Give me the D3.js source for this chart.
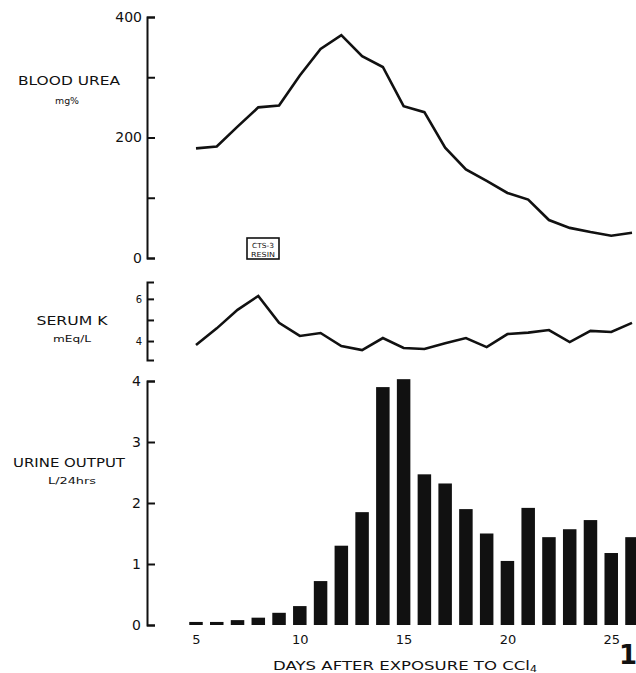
<!DOCTYPE html>
<html>
<head>
<meta charset="utf-8">
<script src="https://cdn.jsdelivr.net/npm/d3@7"></script>
<style>
  body { margin: 0; background: #fff; }
  svg text { font-family: "DejaVu Sans", sans-serif; fill: #111; }
</style>
</head>
<body>
<script>
// days after exposure
const days = [5, 6, 7, 8, 9, 10, 11, 12, 13, 14, 15, 16, 17, 18, 19, 20, 21, 22, 23, 24, 25, 26];
// blood urea mg%
const bloodUrea = [182, 185, 218, 250, 253, 303, 347, 370, 335, 317, 252, 242, 183, 147, 128, 108, 97, 63, 50, 43, 37, 42];
// serum K mEq/L
const serumK = [3.81, 4.6, 5.48, 6.14, 4.86, 4.24, 4.38, 3.76, 3.57, 4.14, 3.67, 3.62, 3.9, 4.14, 3.71, 4.33, 4.4, 4.52, 3.95, 4.48, 4.43, 4.86];
// urine output L/24hrs
const urine = [0.05, 0.05, 0.08, 0.12, 0.2, 0.31, 0.72, 1.3, 1.85, 3.9, 4.03, 2.47, 2.32, 1.9, 1.5, 1.05, 1.92, 1.44, 1.57, 1.72, 1.18, 1.44];

const dayTicks = [5, 10, 15, 20, 25];
const ureaTicks = [0, 100, 200, 300, 400];
const ureaLabels = [0, 200, 400];
const kTicks = [4, 5, 6];
const kLabels = [4, 6];
const urineTicks = [0, 1, 2, 3, 4];

const W = 636, H = 673;
const axisX = 147;

const svg = d3.select('body').append('svg')
  .attr('width', W)
  .attr('height', H);

const x = d3.scaleLinear().domain([5, 26]).range([196, 632]);

const yUrea = d3.scaleLinear().domain([0, 400]).range([258, 17]);
const yK = d3.scaleLinear().domain([3.1, 6.8]).range([360, 282]);
const yUrine = d3.scaleLinear().domain([0, 4]).range([625, 381]);

function styleAxis(g, fs) {
  g.select('.domain').attr('stroke', '#111').attr('stroke-width', 2);
  g.selectAll('.tick line').attr('stroke', '#111').attr('stroke-width', 2);
  g.selectAll('.tick text').attr('font-size', fs).attr('fill', '#111')
    .style('font-family', '"DejaVu Sans", sans-serif');
}

// blood urea axis
svg.append('g')
  .attr('transform', `translate(${axisX},0)`)
  .call(d3.axisLeft(yUrea).tickValues(ureaTicks)
    .tickSize(-8).tickPadding(5)
    .tickFormat(d => ureaLabels.includes(d) ? d : ''))
  .call(g => styleAxis(g, 14));

// serum K axis
svg.append('g')
  .attr('transform', `translate(${axisX},0)`)
  .call(d3.axisLeft(yK).tickValues(kTicks)
    .tickSize(-7).tickSizeOuter(-7).tickPadding(5)
    .tickFormat(d => kLabels.includes(d) ? d : ''))
  .call(g => styleAxis(g, 10));

// urine axis
svg.append('g')
  .attr('transform', `translate(${axisX},0)`)
  .call(d3.axisLeft(yUrine).tickValues(urineTicks)
    .tickSize(-8).tickPadding(6)
    .tickFormat(d3.format('d')))
  .call(g => styleAxis(g, 14));

// x tick labels (no axis line)
const xg = svg.append('g')
  .attr('transform', 'translate(0,635)')
  .call(d3.axisBottom(x).tickValues(dayTicks).tickSize(0).tickPadding(0));
xg.select('.domain').remove();
xg.selectAll('.tick text').attr('font-size', 13).attr('fill', '#111')
  .style('font-family', '"DejaVu Sans", sans-serif');

// lines
const ureaLine = d3.line().x((d, i) => x(days[i])).y(d => yUrea(d));
svg.append('path')
  .datum(bloodUrea)
  .attr('d', ureaLine)
  .attr('fill', 'none')
  .attr('stroke', '#111')
  .attr('stroke-width', 2.6);

const kLine = d3.line().x((d, i) => x(days[i])).y(d => yK(d));
svg.append('path')
  .datum(serumK)
  .attr('d', kLine)
  .attr('fill', 'none')
  .attr('stroke', '#111')
  .attr('stroke-width', 2.6);

// bars
const barW = 13.5;
svg.selectAll('rect.bar')
  .data(urine)
  .enter()
  .append('rect')
  .attr('class', 'bar')
  .attr('x', (d, i) => x(days[i]) - barW / 2)
  .attr('y', d => yUrine(d))
  .attr('width', barW)
  .attr('height', d => yUrine(0) - yUrine(d))
  .attr('fill', '#111');

// left labels
function label(txt, cx, y, fs, len) {
  const t = svg.append('text')
    .attr('x', cx).attr('y', y)
    .attr('text-anchor', 'middle')
    .attr('font-size', fs)
    .text(txt);
  if (len) t.attr('textLength', len).attr('lengthAdjust', 'spacingAndGlyphs');
  return t;
}
label('BLOOD UREA', 69, 85, 12, 102);
label('mg%', 67, 104, 8, 24);
label('SERUM K', 72, 325, 12, 71);
label('mEq/L', 72, 342, 8, 38);
label('URINE OUTPUT', 69, 467, 12, 112);
label('L/24hrs', 72, 484, 8, 48);

// resin box
svg.append('rect')
  .attr('x', 247).attr('y', 238)
  .attr('width', 32).attr('height', 21)
  .attr('fill', 'none')
  .attr('stroke', '#111')
  .attr('stroke-width', 1.6);
label('CTS-3', 263, 247.5, 7, 22);
label('RESIN', 263, 256.5, 7, 24);

// x axis title
const xt = svg.append('text')
  .attr('x', 405).attr('y', 670)
  .attr('text-anchor', 'middle')
  .attr('font-size', 12)
  .attr('textLength', 264)
  .attr('lengthAdjust', 'spacingAndGlyphs');
xt.append('tspan').text('DAYS AFTER EXPOSURE TO CCl');
xt.append('tspan').attr('font-size', 8).attr('dy', 2).text('4');

// figure number
svg.append('text')
  .attr('x', 619).attr('y', 664)
  .attr('font-size', 26)
  .attr('font-weight', 'bold')
  .text('1');
</script>
</body>
</html>
